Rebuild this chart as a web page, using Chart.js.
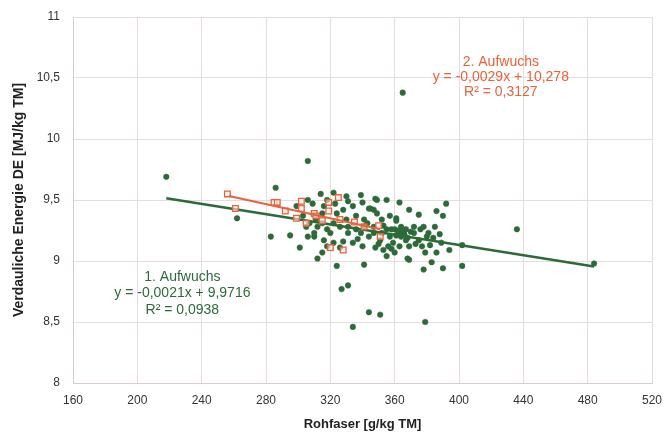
<!DOCTYPE html>
<html>
<head>
<meta charset="utf-8">
<script src="https://cdn.jsdelivr.net/npm/chart.js@4"></script>
<style>
  html, body { margin: 0; padding: 0; background: #fff; }
  #wrap { width: 665px; height: 432px; }
</style>
</head>
<body>
<div id="wrap"><canvas id="c" width="665" height="432"></canvas></div>
<script>
const FONT = "'Liberation Sans', Arial, sans-serif";
const GREEN = '#2d6a3a';
const ORANGE = '#e8623c';

// 1. Aufwuchs: [Rohfaser, DE]
const aufwuchs1 = [
  [218, 9.69], [306, 9.82], [365, 10.38], [262, 9.35], [286, 9.60], [283, 9.20],
  [295, 9.21], [301, 9.11], [314, 9.55], [322, 9.56], [330, 9.53], [339, 9.54],
  [348, 9.51], [355, 9.50], [363, 9.48], [392, 9.47], [386, 9.41], [390, 9.37],
  [375, 9.38], [306, 9.50], [309, 9.47], [316, 9.45], [323, 9.47], [324, 9.39],
  [328, 9.42], [334, 9.45], [340, 9.48], [345, 9.43], [347, 9.42], [349, 9.39],
  [336, 9.37], [341, 9.34], [352, 9.34], [357, 9.37], [361, 9.33], [364, 9.28],
  [367, 9.26], [360, 9.26], [355, 9.26], [352, 9.23], [347, 9.23], [344, 9.20],
  [339, 9.23], [341, 9.28], [336, 9.26], [331, 9.28], [331, 9.23], [326, 9.28],
  [322, 9.31], [318, 9.26], [315, 9.31], [311, 9.34], [307, 9.31], [305, 9.28],
  [306, 9.20], [310, 9.20], [316, 9.17], [318, 9.12], [326, 9.11], [315, 9.07],
  [310, 9.23], [340, 9.12], [348, 9.11], [353, 9.09], [356, 9.12], [359, 9.15],
  [363, 9.12], [368, 9.19], [372, 9.23], [376, 9.26], [378, 9.28], [381, 9.23],
  [384, 9.19], [375, 9.17], [369, 9.12], [368, 9.02], [377, 9.12], [379, 9.07],
  [386, 9.07], [389, 9.15], [394, 9.09], [402, 9.13], [378, 8.93], [383, 8.99],
  [390, 8.94], [402, 8.96], [341, 8.97], [324, 8.96], [312, 9.02], [327, 8.77],
  [331, 8.80], [344, 8.58], [351, 8.56], [334, 8.46], [379, 8.50], [436, 9.26],
  [484, 8.98], [320, 9.23], [322, 9.15], [328, 9.16], [347, 9.28], [351, 9.17],
  [357, 9.20], [363, 9.23], [365, 9.24], [361, 9.21], [364, 9.20], [358, 9.26],
  [367, 9.17], [372, 9.28], [360, 9.07], [355, 9.04], [369, 9.01], [382, 9.13],
  [369, 9.42], [361, 9.35], [349, 9.50], [344, 9.43], [331, 9.49], [318, 9.50],
  [315, 9.39], [330, 9.34], [299, 9.45], [303, 9.37], [337, 9.18], [343, 9.31],
  [353, 9.29], [362, 9.25], [366, 9.22], [370, 9.24], [373, 9.14], [380, 9.20],
  [385, 9.28], [388, 9.22], [358, 9.10], [350, 9.14], [334, 9.15], [312, 9.28]
];

// 2. Aufwuchs: [Rohfaser, DE]
const aufwuchs2 = [
  [256, 9.55], [261, 9.43], [285, 9.48], [287, 9.48], [292, 9.41], [302, 9.49],
  [302, 9.43], [305, 9.31], [319, 9.48], [319, 9.41], [325, 9.52], [320, 9.11],
  [328, 9.09], [350, 9.29], [351, 9.20], [310, 9.39], [335, 9.32], [326, 9.34],
  [315, 9.33], [341, 9.28], [299, 9.35], [311, 9.37]
];

// trend lines (end points from the printed equations)
const trend1 = [[218, 9.514], [484, 8.955]];
const trend2 = [[257, 9.533], [351, 9.260]];

const xTicks = [160, 200, 240, 280, 320, 360, 400, 440, 480, 520];
const yTicks = [8, 8.5, 9, 9.5, 10, 10.5, 11];

const labels = [
  { lines: ['1. Aufwuchs', 'y = -0,0021x + 9,9716', 'R² = 0,0938'], x: 228, y: [8.87, 8.74, 8.60], color: GREEN },
  { lines: ['2. Aufwuchs', 'y = -0,0029x + 10,278', 'R² = 0,3127'], x: 426, y: [10.63, 10.51, 10.38], color: ORANGE }
];

const toPts = arr => arr.map(p => ({ x: p[0], y: p[1] }));

const textPlugin = {
  id: 'eqText',
  afterDatasetsDraw(chart) {
    const { ctx, scales } = chart;
    ctx.save();
    ctx.font = '14px ' + FONT;
    ctx.textAlign = 'center';
    ctx.textBaseline = 'middle';
    labels.forEach(l => {
      ctx.fillStyle = l.color;
      l.lines.forEach((t, i) => {
        ctx.fillText(t, scales.x.getPixelForValue(l.x), scales.y.getPixelForValue(l.y[i]));
      });
    });
    ctx.restore();
  }
};

new Chart(document.getElementById('c'), {
  type: 'scatter',
  data: {
    datasets: [
      {
        label: '2. Aufwuchs Trend',
        data: toPts(trend2),
        showLine: true,
        borderColor: ORANGE,
        borderWidth: 2,
        pointRadius: 0,
        order: 0
      },
      {
        label: '2. Aufwuchs',
        data: toPts(aufwuchs2),
        pointStyle: 'rect',
        pointRadius: 4,
        backgroundColor: 'rgba(255,240,235,0.6)',
        borderColor: ORANGE,
        borderWidth: 1.3,
        order: 1
      },
      {
        label: '1. Aufwuchs Trend',
        data: toPts(trend1),
        showLine: true,
        borderColor: GREEN,
        borderWidth: 2.5,
        pointRadius: 0,
        order: 2
      },
      {
        label: '1. Aufwuchs',
        data: toPts(aufwuchs1),
        pointRadius: 2.8,
        backgroundColor: GREEN,
        borderColor: 'rgba(45,106,58,0.5)',
        borderWidth: 1,
        order: 3
      }
    ]
  },
  options: {
    responsive: false,
    animation: false,
    layout: { padding: { left: 11, right: 13, top: 17, bottom: 0 } },
    plugins: { legend: { display: false }, tooltip: { enabled: false } },
    scales: {
      x: {
        type: 'linear',
        min: 160,
        max: 520,
        afterBuildTicks: s => { s.ticks = xTicks.map(v => ({ value: v })); },
        afterFit: s => { s.height = 49; s.paddingLeft = 0; s.paddingRight = 0; },
        grid: { color: '#e6dcdc', drawTicks: false },
        border: { color: '#d8cccc' },
        ticks: { padding: 10, color: '#333', font: { family: FONT, size: 12 } },
        title: {
          display: true,
          text: 'Rohfaser [g/kg TM]',
          color: '#222',
          padding: { top: 4, bottom: 0 },
          font: { family: FONT, size: 13, weight: 'bold' }
        }
      },
      y: {
        type: 'linear',
        min: 8,
        max: 11,
        afterBuildTicks: s => { s.ticks = yTicks.map(v => ({ value: v })); },
        afterFit: s => { s.width = 62; s.paddingTop = 0; s.paddingBottom = 0; },
        grid: { color: '#e6dcdc', drawTicks: false },
        border: { color: '#d8cccc' },
        ticks: {
          padding: 13,
          color: '#333',
          font: { family: FONT, size: 12 },
          callback: v => String(v).replace('.', ',')
        },
        title: {
          display: true,
          text: 'Verdauliche Energie DE [MJ/kg TM]',
          color: '#222',
          padding: { top: 0, bottom: 4 },
          font: { family: FONT, size: 14, weight: 'bold' }
        }
      }
    }
  },
  plugins: [textPlugin]
});
</script>
</body>
</html>
